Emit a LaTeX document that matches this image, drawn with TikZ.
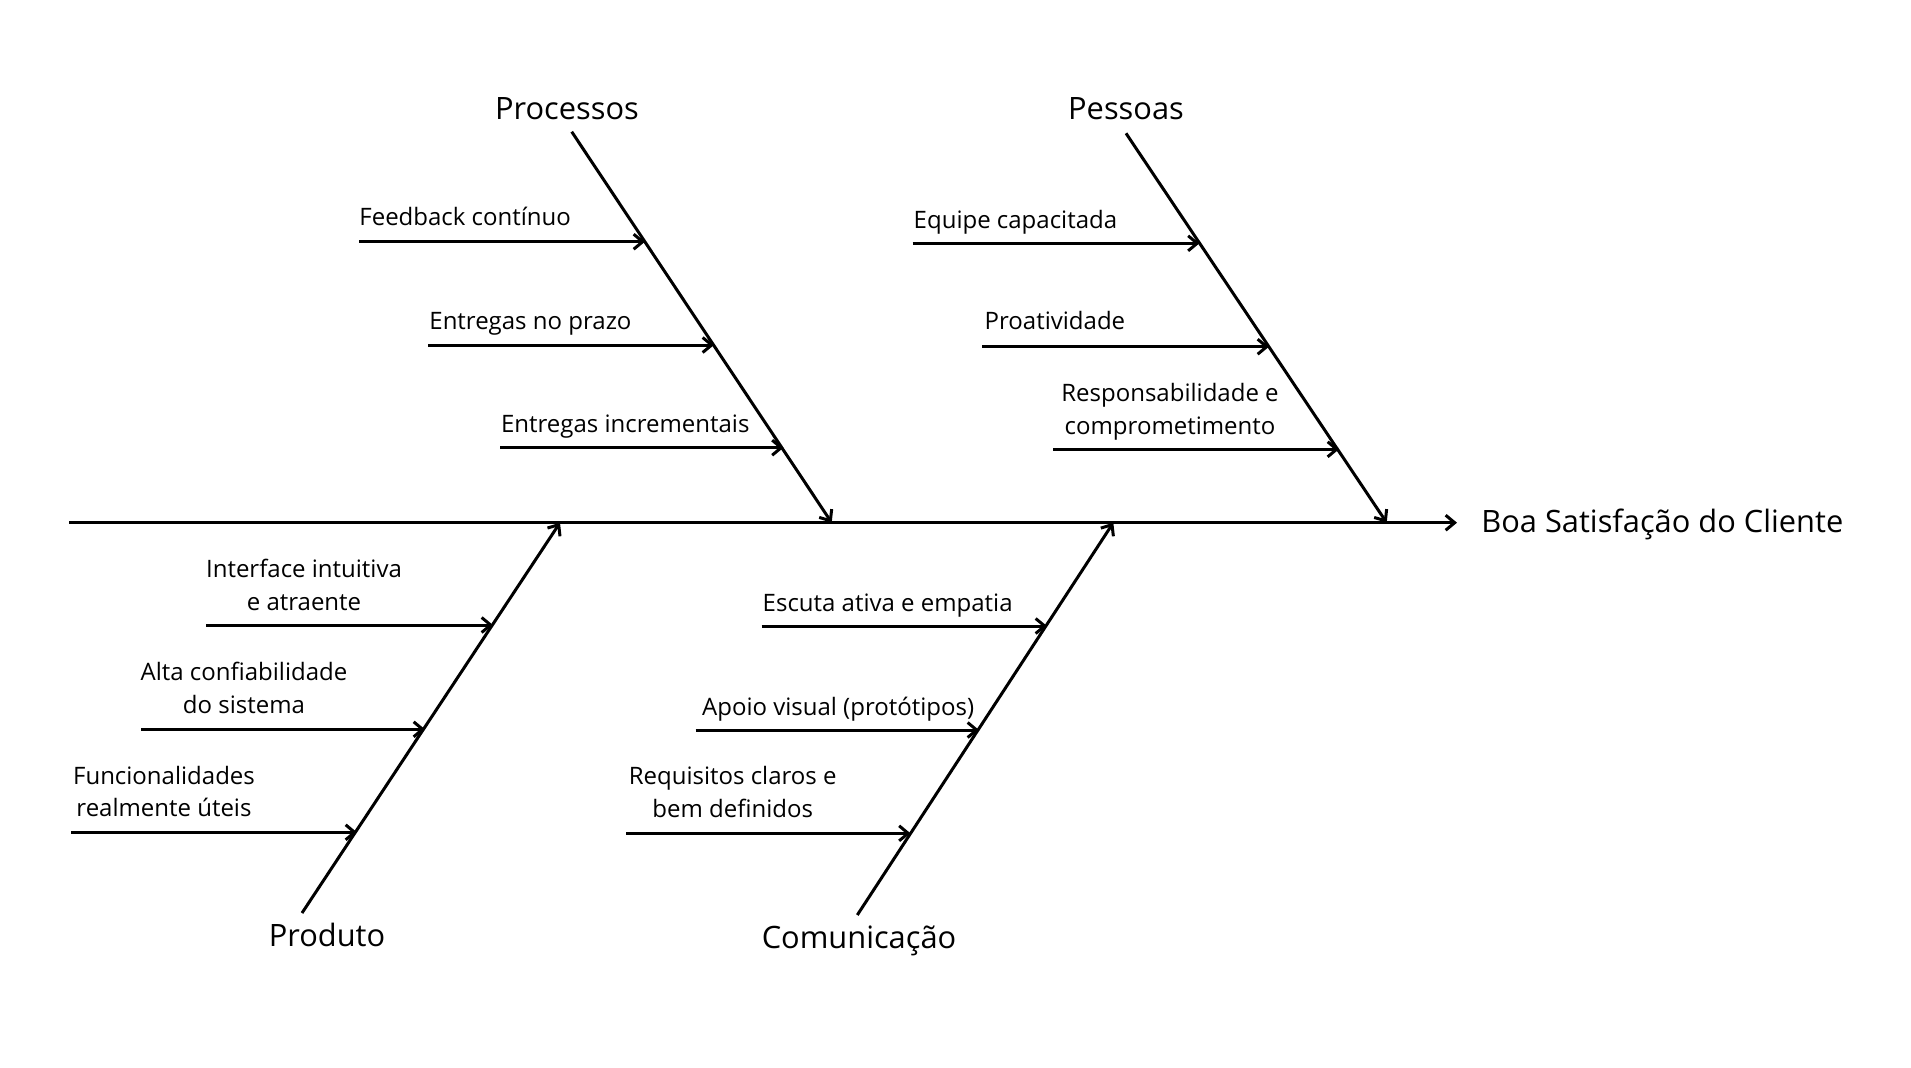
\documentclass[tikz,border=0pt]{standalone}
\usepackage{fontspec}
\setmainfont{Open Sans}
\usetikzlibrary{arrows.meta}
\begin{document}
\begin{tikzpicture}[x=0.5pt,y=-0.5pt,
  bone/.style={line width=1.5pt,-{Straight Barb[length=4.5pt,width=7.5pt,line width=1.5pt]}},
  cause/.style={inner sep=0pt,font=\fontsize{12}{16.2}\selectfont},
  causec/.style={cause,align=center},
  cat/.style={inner sep=0pt,font=\fontsize{15.4}{19}\selectfont,anchor=base},
  effect/.style={inner sep=0pt,font=\fontsize{15.4}{19}\selectfont,anchor=base west}]
\useasboundingbox (0,0) rectangle (1911,1067);
% spine
\coordinate (s0) at (69.3,522.7);
\coordinate (s1) at (1457,522.7);
\draw[bone] (s0) -- (s1);
\node[effect] (eff) at (1481,532.6) {Boa Satisfação do Cliente};
% main bones
\coordinate (pr0) at (571.7,131.7); \coordinate (pr1) at (831.7,522.7);
\coordinate (pe0) at (1126,133.3);  \coordinate (pe1) at (1386.7,522.7);
\coordinate (po0) at (302,913);     \coordinate (po1) at (560,522.7);
\coordinate (co0) at (857.3,915);   \coordinate (co1) at (1113.3,522.7);
\draw[bone] (pr0) -- (pr1);
\draw[bone] (pe0) -- (pe1);
\draw[bone] (po0) -- (po1);
\draw[bone] (co0) -- (co1);
\node[cat] (proc) at (567,119.3) {Processos};
\node[cat] (pess) at (1126,119.3) {Pessoas};
\node[cat] (prod) at (327,946) {Produto};
\node[cat] (comu) at (859,948.3) {Comunicação};
% Processos causes
\coordinate (a1) at (359,241.7); \coordinate (b1) at (645,241.7);
\coordinate (a2) at (428,345);   \coordinate (b2) at (714,345);
\coordinate (a3) at (500,447.7); \coordinate (b3) at (783.5,447.7);
\draw[bone] (a1) -- (b1);
\draw[bone] (a2) -- (b2);
\draw[bone] (a3) -- (b3);
\node[cause,anchor=base west] (t1) at (359,225.7) {Feedback contínuo};
\node[cause,anchor=base west] (t2) at (429,329.3) {Entregas no prazo};
\node[cause,anchor=base west] (t3) at (500.7,432.3) {Entregas incrementais};
% Pessoas causes
\coordinate (a4) at (912.7,243.3);  \coordinate (b4) at (1199.5,243.3);
\coordinate (a5) at (982.3,346.7);  \coordinate (b5) at (1269,346.7);
\coordinate (a6) at (1053.3,449.3); \coordinate (b6) at (1339,449.3);
\draw[bone] (a4) -- (b4);
\draw[bone] (a5) -- (b5);
\draw[bone] (a6) -- (b6);
\node[cause,anchor=base west] (t4) at (913.3,228.3) {Equipe capacitada};
\node[cause,anchor=base west] (t5) at (984.3,329.3) {Proatividade};
\node[causec,anchor=base] (t6) at (1170,434.3) {Responsabilidade e\\comprometimento};
% Produto causes
\coordinate (a7) at (206,625);   \coordinate (b7) at (493,625);
\coordinate (a8) at (141,729.3);   \coordinate (b8) at (425,729.3);
\coordinate (a9) at (71,832.3);  \coordinate (b9) at (357,832.3);
\draw[bone] (a7) -- (b7);
\draw[bone] (a8) -- (b8);
\draw[bone] (a9) -- (b9);
\node[causec,anchor=base] (t7) at (304,610) {Interface intuitiva\\e atraente};
\node[causec,anchor=base] (t8) at (244,713.3) {Alta confiabilidade\\do sistema};
\node[causec,anchor=base] (t9) at (164,816.7) {Funcionalidades\\realmente úteis};
% Comunicação causes
\coordinate (a10) at (761.7,626);  \coordinate (b10) at (1047,626);
\coordinate (a11) at (695.7,730);  \coordinate (b11) at (979,730);
\coordinate (a12) at (626,833.3);  \coordinate (b12) at (910.5,833.3);
\draw[bone] (a10) -- (b10);
\draw[bone] (a11) -- (b11);
\draw[bone] (a12) -- (b12);
\node[cause,anchor=base west] (t10) at (762.3,611) {Escuta ativa e empatia};
\node[cause,anchor=base west] (t11) at (701.7,715.7) {Apoio visual (protótipos)};
\node[causec,anchor=base] (t12) at (732.7,817.3) {Requisitos claros e\\bem definidos};
\end{tikzpicture}
\end{document}
